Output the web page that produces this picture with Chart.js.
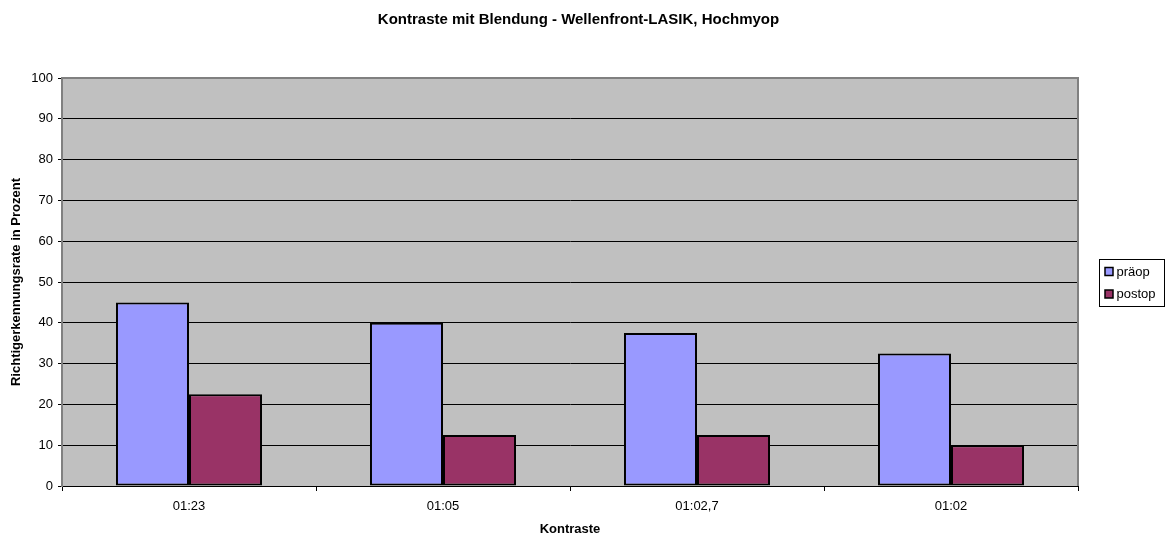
<!DOCTYPE html>
<html>
<head>
<meta charset="utf-8">
<script src="https://cdn.jsdelivr.net/npm/chart.js@4"></script>
<style>
  html, body { margin: 0; padding: 0; background: #ffffff; }
  #wrap { width: 1165px; height: 535px; }
</style>
</head>
<body>
<div id="wrap"><canvas id="c" width="1165" height="535"></canvas></div>
<script>
// Kontraststufen (Kategorien)
const kontraste = ['01:23', '01:05', '01:02,7', '01:02'];
// Richtigerkennungsrate in Prozent
const praeop = [45, 40, 37.5, 32.5];
const postop = [22.5, 12.5, 12.5, 10];
const serienNamen = ['präop', 'postop'];
const serienFarben = ['#9999FF', '#993366'];
const yTicks = [0, 10, 20, 30, 40, 50, 60, 70, 80, 90, 100];

const FONT = "'Liberation Sans', Arial, sans-serif";

// grey plot background plus grey top/right frame
const plotFrame = {
  id: 'plotFrame',
  beforeDraw(chart) {
    const a = chart.chartArea, ctx = chart.ctx;
    ctx.save();
    ctx.fillStyle = '#C0C0C0';
    ctx.fillRect(a.left, a.top, a.right - a.left, a.bottom - a.top);
    ctx.restore();
  },
  afterDraw(chart) {
    const a = chart.chartArea, ctx = chart.ctx;
    ctx.save();
    ctx.strokeStyle = '#808080';
    ctx.lineWidth = 2;
    ctx.beginPath();
    ctx.moveTo(a.left, a.top);
    ctx.lineTo(a.right, a.top);
    ctx.lineTo(a.right, a.bottom);
    ctx.stroke();
    ctx.restore();
  }
};

// framed legend box on the right
const boxLegend = {
  id: 'boxLegend',
  afterDraw(chart) {
    const ctx = chart.ctx;
    const x = 1099.5, y = 259.5, w = 65, h = 47;
    ctx.save();
    ctx.fillStyle = '#ffffff';
    ctx.fillRect(x, y, w, h);
    ctx.strokeStyle = '#000000';
    ctx.lineWidth = 1;
    ctx.strokeRect(x, y, w, h);
    ctx.font = '13px ' + FONT;
    ctx.textBaseline = 'middle';
    chart.data.datasets.forEach((ds, i) => {
      const cy = y + 12 + i * 22.5;
      ctx.fillStyle = ds.backgroundColor;
      ctx.fillRect(x + 5.5, cy - 4, 8, 8);
      ctx.strokeStyle = '#000000';
      ctx.lineWidth = 1.5;
      ctx.strokeRect(x + 5.5, cy - 4, 8, 8);
      ctx.fillStyle = '#000000';
      ctx.fillText(ds.label, x + 17, cy + 0.5);
    });
    ctx.restore();
  }
};

new Chart(document.getElementById('c'), {
  type: 'bar',
  data: {
    labels: kontraste,
    datasets: [
      { label: serienNamen[0], data: praeop, backgroundColor: serienFarben[0] },
      { label: serienNamen[1], data: postop, backgroundColor: serienFarben[1] }
    ]
  },
  options: {
    responsive: false,
    animation: false,
    devicePixelRatio: 1,
    layout: { padding: { left: 0, top: 0, bottom: 0, right: 8 } },
    datasets: {
      bar: {
        borderColor: '#000000',
        borderWidth: 2,
        borderSkipped: false,
        categoryPercentage: 0.575,
        barPercentage: 1
      }
    },
    plugins: {
      legend: { display: false },
      tooltip: { enabled: false },
      title: {
        display: true,
        text: 'Kontraste mit Blendung - Wellenfront-LASIK, Hochmyop',
        color: '#000000',
        font: { family: FONT, size: 15, weight: 'bold', lineHeight: 1.2 },
        padding: { top: 11, bottom: 49 }
      }
    },
    scales: {
      x: {
        afterFit(s) { s.height = 49; },
        grid: {
          offset: true,
          drawOnChartArea: false,
          drawTicks: true,
          tickLength: 5,
          color: '#000000'
        },
        border: { color: '#000000', width: 1 },
        ticks: {
          color: '#000000',
          padding: 8,
          font: { family: FONT, size: 13 }
        },
        title: {
          display: true,
          text: 'Kontraste',
          color: '#000000',
          font: { family: FONT, size: 13, weight: 'bold', lineHeight: 0.85 },
          padding: { top: 0, bottom: 0 }
        }
      },
      y: {
        min: 0,
        max: 100,
        afterFit(s) { s.width = 62; },
        afterBuildTicks(s) { s.ticks = yTicks.map(v => ({ value: v })); },
        ticks: {
          color: '#000000',
          padding: 5,
          font: { family: FONT, size: 13 }
        },
        grid: {
          color: '#000000',
          lineWidth: 1,
          tickLength: 4,
          drawTicks: true
        },
        border: { color: '#808080', width: 2 },
        title: {
          display: true,
          text: 'Richtigerkennungsrate in Prozent',
          color: '#000000',
          font: { family: FONT, size: 13, weight: 'bold', lineHeight: 1.2 },
          padding: { top: 9, bottom: 0 }
        }
      },
      // empty right-hand strip that holds the legend
      legendSpace: {
        type: 'linear',
        position: 'right',
        min: 0,
        max: 100,
        afterFit(s) { s.width = 79; },
        grid: { display: false, drawOnChartArea: false },
        border: { display: false },
        ticks: { display: false }
      }
    }
  },
  plugins: [plotFrame, boxLegend]
});
</script>
</body>
</html>
